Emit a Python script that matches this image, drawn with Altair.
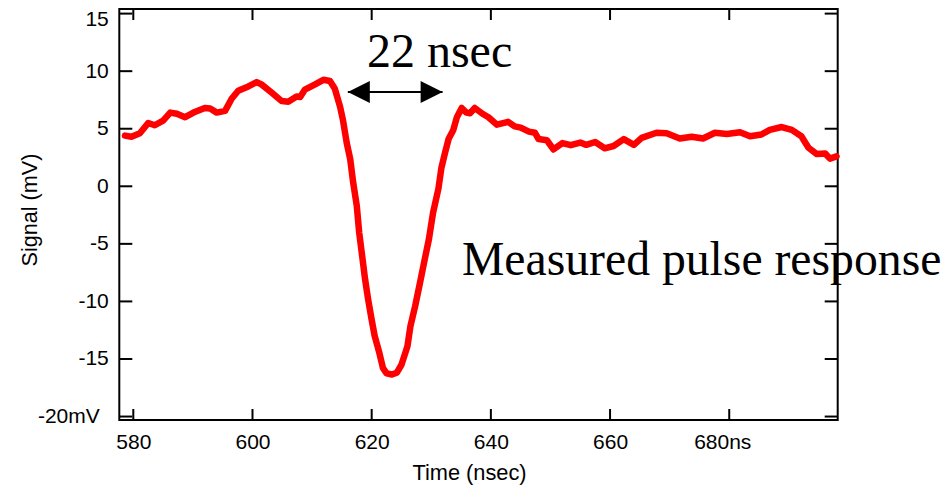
import altair as alt
import pandas as pd

# ---- data ----
time_ns = [578.6, 579.7, 581.1, 582.5, 583.6, 585.0, 586.2, 587.3, 588.7, 590.1,
           592.0, 592.9, 594.0, 595.4, 596.5, 597.6, 599.0, 600.7, 601.5, 603.2,
           604.9, 606.0, 607.4, 608.0, 608.8, 610.5, 611.9, 613.0, 613.8, 614.7,
           615.2, 615.8, 616.4, 616.9, 617.5, 617.9, 618.4, 618.9, 619.4, 620.0,
           620.5, 621.3, 621.9, 622.5, 623.4, 624.2, 625.0, 626.0, 626.5, 627.3,
           628.1, 628.9, 629.6, 630.3, 631.2, 631.7, 632.3, 632.9, 633.7, 634.3,
           635.1, 635.9, 636.5, 637.3, 638.6, 639.6, 641.0, 642.9, 644.0, 645.0,
           646.4, 647.4, 648.0, 649.4, 650.5, 652.0, 653.4, 655.0, 656.0, 657.5,
           659.1, 660.6, 662.3, 664.0, 665.3, 667.8, 669.5, 671.7, 673.7, 675.6,
           677.6, 679.6, 681.8, 683.5, 685.4, 686.8, 688.8, 690.5, 692.1, 693.3,
           694.7, 696.1, 696.9, 698.0]
signal_mv = [4.4, 4.3, 4.6, 5.5, 5.3, 5.7, 6.4, 6.3, 6.0, 6.4,
             6.8, 6.75, 6.4, 6.55, 7.6, 8.3, 8.6, 9.05, 8.85, 8.15,
             7.4, 7.35, 7.8, 7.75, 8.4, 8.85, 9.25, 9.15, 8.5, 6.9,
             5.7, 3.8, 2.35, 0.3, -1.7, -4.0, -6.05, -8.1, -9.8, -11.6,
             -13.0, -14.5, -15.8, -16.25, -16.35, -16.2, -15.5, -13.9, -12.15, -10.4,
             -8.4, -6.35, -4.6, -2.3, -0.2, 1.6, 2.9, 4.1, 4.9, 6.0,
             6.8, 6.4, 6.35, 6.8, 6.3, 6.0, 5.35, 5.6, 5.2, 5.1,
             4.75, 4.65, 4.1, 4.0, 3.2, 3.75, 3.57, 3.8, 3.6, 3.85,
             3.3, 3.5, 4.1, 3.6, 4.2, 4.65, 4.6, 4.15, 4.3, 4.15,
             4.65, 4.55, 4.7, 4.35, 4.5, 4.9, 5.15, 4.9, 4.35, 3.35,
             2.8, 2.85, 2.4, 2.6]

x_ticks = [580, 600, 620, 640, 660, 680]
y_ticks = [15, 10, 5, 0, -5, -10, -15, -20]

ann_text = ["22 nsec", "Measured pulse response"]
ann_x = [619.2, 635.15]
ann_y = [10.38, -7.71]
ann_size = [48, 47.7]

arrow_x = [616.0, 631.9]
arrow_y = [8.2, 8.2]

# ---- layout ----
W, H = 718.4, 411
XD = [577.65, 698.2]
YD = [-20.3, 15.4]
SANS = "Liberation Sans"
SERIF = "Liberation Serif"
# keep the whole page inside the 952x493 window (8px body margin)
PAD = {"left": 111.3, "top": 1, "right": 106.3, "bottom": 65}

xs = alt.Scale(domain=XD, nice=False, zero=False)
ys = alt.Scale(domain=YD, nice=False, zero=False)

line_df = pd.DataFrame({"x": time_ns, "y": signal_mv})
xt_df = pd.DataFrame({"x": x_ticks})
yt_df = pd.DataFrame({"y": y_ticks})
ann_df = pd.DataFrame({"x": ann_x, "y": ann_y, "t": ann_text, "s": ann_size})
arr_df = pd.DataFrame({"x": [arrow_x[0]], "x2": [arrow_x[1]], "y": [arrow_y[0]]})
arr_l = pd.DataFrame({"x": [arrow_x[0]], "y": [arrow_y[0]]})
arr_r = pd.DataFrame({"x": [arrow_x[1]], "y": [arrow_y[1]]})

x_axis = alt.Axis(
    values=x_ticks,
    labelExpr="datum.value == 680 ? '680ns' : '' + datum.value",
    ticks=False, domain=False, grid=False,
    labelFont=SANS, labelFontSize=21, labelPadding=11, labelColor="black",
    labelOffset={"condition": {"test": "datum.value == 680", "value": -7}, "value": 0},
    labelFlush=False, labelOverlap=False,
    title="Time (nsec)", titleFont=SANS, titleFontSize=21.8, titleFontWeight="normal",
    titleColor="black", titleX=349.7, titleY=59.5, titleBaseline="alphabetic",
    titleAlign="center",
)
y_axis = alt.Axis(
    values=y_ticks,
    labelExpr="datum.value == -20 ? '-20mV' : '' + datum.value",
    ticks=False, domain=False, grid=False,
    labelFont=SANS, labelFontSize=21, labelColor="black",
    labelPadding={"condition": {"test": "datum.value == -20", "value": 20}, "value": 11},
    labelBaseline={"condition": {"test": "datum.value == 15", "value": "top"}, "value": "middle"},
    labelOffset={"condition": {"test": "datum.value == 15", "value": -4.8}, "value": 0},
    labelFlush=False, labelOverlap=False,
    title="Signal (mV)", titleFont=SANS, titleFontSize=21.6, titleFontWeight="normal",
    titleColor="black", titleX=-83, titleY=200.5, titleBaseline="alphabetic",
    titleAlign="center", titleAngle=270,
)

X = alt.X("x:Q", scale=xs)
Y = alt.Y("y:Q", scale=ys)

line = alt.Chart(line_df).mark_line(
    color="#ff0000", strokeWidth=6.5, strokeJoin="round", strokeCap="round"
).encode(
    x=alt.X("x:Q", scale=xs, axis=x_axis),
    y=alt.Y("y:Q", scale=ys, axis=y_axis),
)

tick_style = dict(color="black", strokeWidth=2)
bottom_ticks = alt.Chart(xt_df).mark_rule(**tick_style).encode(
    x=X, y=alt.value(H), y2=alt.value(H - 11))
top_ticks = alt.Chart(xt_df).mark_rule(**tick_style).encode(
    x=X, y=alt.value(0), y2=alt.value(11))
left_ticks = alt.Chart(yt_df).mark_rule(**tick_style).encode(
    y=Y, x=alt.value(0), x2=alt.value(13))
right_ticks = alt.Chart(yt_df).mark_rule(**tick_style).encode(
    y=Y, x=alt.value(W), x2=alt.value(W - 13))

texts = alt.Chart(ann_df).mark_text(
    font=SERIF, align="left", baseline="alphabetic", color="black"
).encode(x=X, y=Y, text="t:N", size=alt.Size("s:Q", scale=None, legend=None))

shaft = alt.Chart(arr_df).mark_rule(color="black", strokeWidth=2).encode(
    x=X, x2="x2:Q", y=Y,
)
head_l = alt.Chart(arr_l).mark_point(
    shape="M -1 0 L 1 -1 L 1 1 Z", size=484, filled=True, color="black",
    opacity=1, strokeWidth=0, xOffset=11,
).encode(x=X, y=Y)
head_r = alt.Chart(arr_r).mark_point(
    shape="M 1 0 L -1 -1 L -1 1 Z", size=484, filled=True, color="black",
    opacity=1, strokeWidth=0, xOffset=-11,
).encode(x=X, y=Y)

chart = alt.layer(
    line, bottom_ticks, top_ticks, left_ticks, right_ticks, texts, shaft, head_l, head_r
).properties(
    width=W, height=H,
    autosize=alt.AutoSizeParams(type="none"),
    padding=PAD,
    background="white",
).configure_view(
    stroke="black", strokeWidth=2
)

chart.save("out.html", embed_options={"renderer": "svg", "actions": False})
